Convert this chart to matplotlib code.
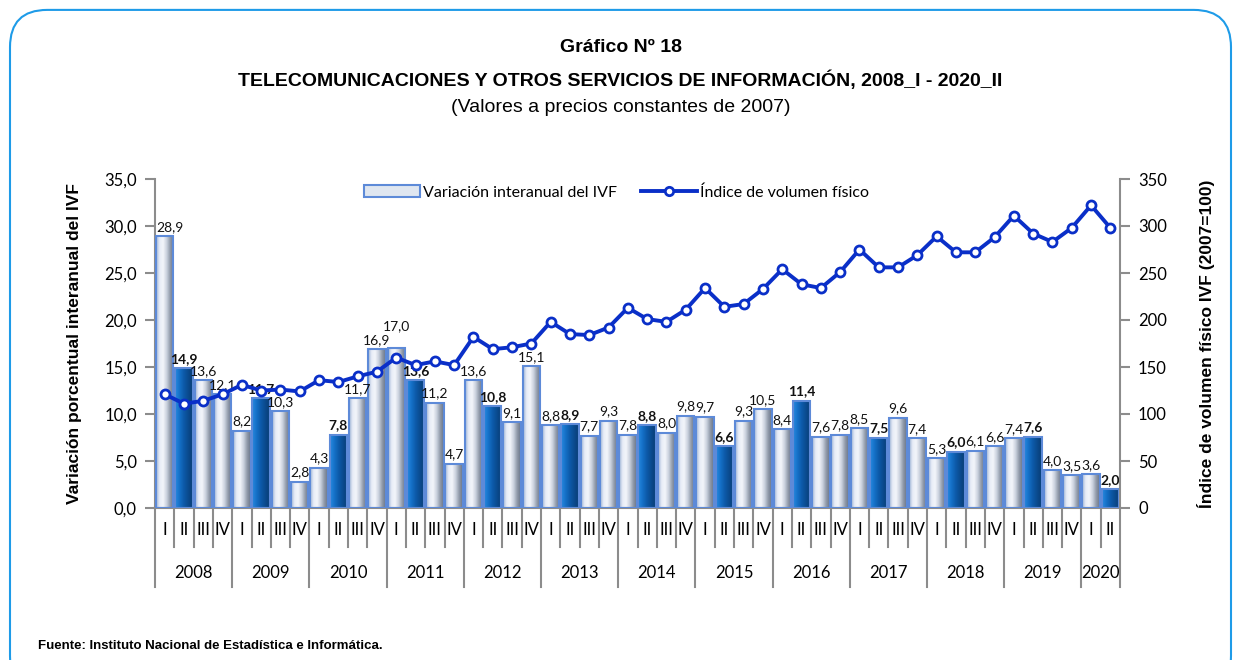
import matplotlib.pyplot as plt
import numpy as np
from matplotlib.patches import FancyBboxPatch, Patch
from matplotlib.lines import Line2D
import matplotlib.transforms as mtransforms

# datos
years = ['2008', '2009', '2010', '2011', '2012', '2013', '2014', '2015',
         '2016', '2017', '2018', '2019', '2020']
quarters = ['I', 'II', 'III', 'IV']
n_quarters = [4] * 12 + [2]

variacion = [28.9, 14.9, 13.6, 12.1,
             8.2, 11.7, 10.3, 2.8,
             4.3, 7.8, 11.7, 16.9,
             17.0, 13.6, 11.2, 4.7,
             13.6, 10.8, 9.1, 15.1,
             8.8, 8.9, 7.7, 9.3,
             7.8, 8.8, 8.0, 9.8,
             9.7, 6.6, 9.3, 10.5,
             8.4, 11.4, 7.6, 7.8,
             8.5, 7.5, 9.6, 7.4,
             5.3, 6.0, 6.1, 6.6,
             7.4, 7.6, 4.0, 3.5,
             3.6, 2.0]

indice = [121, 111, 114, 121,
          131, 125, 126, 124,
          136, 134, 140, 145,
          160, 152, 156, 152,
          182, 169, 171, 175,
          198, 185, 184, 192,
          213, 201, 198, 211,
          234, 214, 217, 233,
          254, 238, 234, 251,
          275, 256, 256, 269,
          289, 272, 272, 288,
          311, 292, 283, 298,
          322, 298]

plt.rcParams['font.family'] = ['Lato', 'DejaVu Sans']
sans = ['Liberation Sans', 'DejaVu Sans']

fig = plt.figure(figsize=(12.41, 6.6), dpi=100)
ax = fig.add_axes([155 / 1241, 152 / 660, 965 / 1241, 329 / 660])

x = np.arange(len(variacion))
q_labels = [quarters[i] for n in n_quarters for i in range(n)]
is_ii = np.array([q == 'II' for q in q_labels])

bars = ax.bar(x, variacion, width=0.9, color='none', edgecolor='#5d8ad8',
              linewidth=1.5, zorder=3)

light = np.array([[0.62, 0.70, 0.83], [0.91, 0.93, 0.97], [0.95, 0.96, 0.98],
                  [0.79, 0.82, 0.87], [0.56, 0.60, 0.66], [0.42, 0.46, 0.53]])
dark = np.array([[0.16, 0.54, 0.88], [0.08, 0.44, 0.78], [0.05, 0.35, 0.66],
                 [0.04, 0.29, 0.55], [0.03, 0.24, 0.46]])


def make_grad(stops):
    t = np.linspace(0, 1, 64)
    pos = np.linspace(0, 1, len(stops))
    rgb = np.stack([np.interp(t, pos, stops[:, k]) for k in range(3)], axis=-1)
    return rgb[np.newaxis, :, :]


g_light = make_grad(light)
g_dark = make_grad(dark)

for b, dk in zip(bars, is_ii):
    x0, w, h = b.get_x(), b.get_width(), b.get_height()
    im = ax.imshow(g_dark if dk else g_light, extent=[x0, x0 + w, 0, h],
                   aspect='auto', zorder=2, interpolation='bilinear')
    im.set_clip_path(b)

# pequeños ajustes de etiquetas que se pisan
nudge = {0: (0.25, 0.0), 12: (0.0, 1.4)}
for i, (xi, v, dk) in enumerate(zip(x, variacion, is_ii)):
    dx, dy = nudge.get(i, (0.0, 0.0))
    ax.text(xi + dx, v + 0.35 + dy, f'{v:.1f}'.replace('.', ','), ha='center',
            va='bottom', fontsize=10, fontweight='bold' if dk else 'normal',
            color='#111111', zorder=5)

ax.set_xlim(-0.5, len(variacion) - 0.5)
ax.set_ylim(0, 35)
ax.set_yticks(np.arange(0, 36, 5))
ax.set_yticklabels([f'{v:.1f}'.replace('.', ',') for v in np.arange(0, 36, 5)],
                   fontsize=12)
ax.set_xticks([])
for s in ['top', 'right']:
    ax.spines[s].set_visible(False)
ax.spines['left'].set_color('#8c8c8c')
ax.spines['left'].set_linewidth(1.5)
ax.spines['bottom'].set_color('#8c8c8c')
ax.spines['bottom'].set_linewidth(1.5)
ax.tick_params(axis='y', length=7, width=1.5, color='#8c8c8c', pad=6)
ax.set_ylabel('Variación porcentual interanual del IVF', fontsize=12.5,
              fontweight='bold', family=sans, labelpad=16)

ax2 = ax.twinx()
ax2.plot(x, indice, color='#0a2fc8', lw=2.8, marker='o', markersize=6.5,
         markerfacecolor='white', markeredgecolor='#0a2fc8', markeredgewidth=2,
         zorder=6)
ax2.set_ylim(0, 350)
ax2.set_yticks(np.arange(0, 351, 50))
ax2.tick_params(axis='y', length=7, width=1.5, color='#8c8c8c', pad=6, labelsize=12)
for s in ['top', 'left', 'bottom']:
    ax2.spines[s].set_visible(False)
ax2.spines['right'].set_color('#8c8c8c')
ax2.spines['right'].set_linewidth(1.5)
ax2.set_ylabel('Índice de volumen físico IVF (2007=100)', fontsize=12.5,
               fontweight='bold', family=sans, labelpad=22)

# eje de categorías en dos niveles
trans = mtransforms.blended_transform_factory(ax.transData, ax.transAxes)
for xi, q in zip(x, q_labels):
    ax.text(xi, -0.068, q, transform=trans, ha='center', va='center', fontsize=12)
start = 0
for yr, n in zip(years, n_quarters):
    ax.text(start + (n - 1) / 2, -0.198, yr, transform=trans, ha='center',
            va='center', fontsize=12)
    ax.plot([start - 0.5, start - 0.5], [0, -0.24], transform=trans, color='#8c8c8c',
            lw=1.5, clip_on=False)
    for k in range(1, n):
        ax.plot([start + k - 0.5] * 2, [0, -0.12], transform=trans, color='#8c8c8c',
                lw=1.5, clip_on=False)
    start += n
ax.plot([start - 0.5] * 2, [0, -0.24], transform=trans, color='#8c8c8c',
        lw=1.5, clip_on=False)

handles = [Patch(facecolor='#dfe6f0', edgecolor='#5d8ad8', linewidth=1.5),
           Line2D([], [], color='#0a2fc8', lw=2.8, marker='o', markersize=6,
                  markerfacecolor='white', markeredgewidth=2)]
ax2.legend(handles, ['Variación interanual del IVF', 'Índice de volumen físico'],
           loc='upper center', bbox_to_anchor=(0.478, 1.025), ncol=2, frameon=False,
           fontsize=11.5, handlelength=3.5, columnspacing=1.5, handletextpad=0.2)

fig.text(0.5, 1 - 47 / 660, 'Gráfico Nº 18', ha='center', va='center', fontsize=14,
         fontweight='bold', family=sans)
fig.text(0.5, 1 - 80 / 660,
         'TELECOMUNICACIONES Y OTROS SERVICIOS DE INFORMACIÓN, 2008_I - 2020_II',
         ha='center', va='center', fontsize=14, fontweight='bold', family=sans)
fig.text(0.5, 1 - 108 / 660, '(Valores a precios constantes de 2007)', ha='center',
         va='center', fontsize=14, family=sans)
fig.text(38 / 1241, 1 - 646 / 660, 'Fuente: Instituto Nacional de Estadística e Informática.',
         ha='left', va='center', fontsize=9.5, fontweight='bold', family=sans)

border = FancyBboxPatch((10 / 1241, -0.05), 1221 / 1241, 1.035, transform=fig.transFigure,
                        boxstyle='round,pad=0,rounding_size=0.03', fill=False,
                        edgecolor='#1e9be8', lw=1.5, mutation_aspect=1241 / 660)
fig.patches.append(border)

fig.savefig('out.png', dpi=100)
